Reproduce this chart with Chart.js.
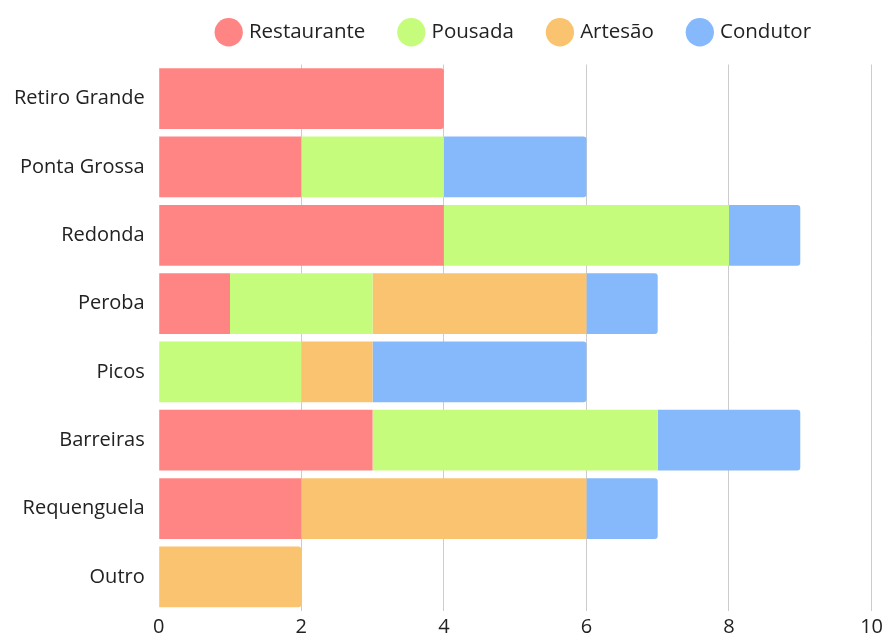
<!DOCTYPE html>
<html>
<head>
<meta charset="utf-8">
<script src="https://cdn.jsdelivr.net/npm/chart.js@4"></script>
<style>
  html, body { margin: 0; padding: 0; background: #fff; }
  #wrap { width: 887px; height: 637px; }
</style>
</head>
<body>
<div id="wrap"><canvas id="myChart"></canvas></div>
<script>
var categories = ["Retiro Grande", "Ponta Grossa", "Redonda", "Peroba", "Picos", "Barreiras", "Requenguela", "Outro"];
var restaurante = [4, 2, 4, 1, 0, 3, 2, 0];
var pousada = [0, 2, 4, 2, 2, 4, 0, 0];
var artesao = [0, 0, 0, 3, 1, 0, 4, 2];
var condutor = [0, 2, 1, 1, 3, 2, 1, 0];
var xTicks = [0, 2, 4, 6, 8, 10];

Chart.defaults.font.family = "'Open Sans', sans-serif";
Chart.defaults.color = "#222";

// extra space under the legend, and legend centred over the plot
var legendMargin = {
  id: 'legendMargin',
  beforeInit: function (chart) {
    var fit = chart.legend.fit;
    chart.legend.fit = function () {
      fit.bind(chart.legend)();
      this.height += 12;
    };
  },
  afterLayout: function (chart) {
    chart.legend.left = chart.chartArea.left - 16;
  }
};

var ctx = document.getElementById("myChart");
var myChart = new Chart(ctx, {
  type: 'bar',
  data: {
    labels: categories,
    datasets: [
      { label: "Restaurante", data: restaurante, backgroundColor: "#ff8585" },
      { label: "Pousada", data: pousada, backgroundColor: "#c6fc7c" },
      { label: "Artesão", data: artesao, backgroundColor: "#f9c370" },
      { label: "Condutor", data: condutor, backgroundColor: "#86b9fb" }
    ]
  },
  plugins: [legendMargin],
  options: {
    indexAxis: 'y',
    maintainAspectRatio: false,
    responsive: true,
    animation: false,
    layout: { padding: { left: 0, right: 0, top: -14, bottom: -8 } },
    datasets: {
      bar: {
        barPercentage: 1,
        categoryPercentage: 0.89,
        borderRadius: 3,
        borderSkipped: 'start'
      }
    },
    plugins: {
      legend: {
        position: 'top',
        labels: {
          usePointStyle: true,
          pointStyle: 'circle',
          boxWidth: 20,
          boxHeight: 20,
          padding: 36,
          font: { size: 20.5 }
        }
      },
      tooltip: { enabled: false }
    },
    scales: {
      x: {
        stacked: true,
        min: 0,
        max: 10,
        afterBuildTicks: function (axis) {
          axis.ticks = xTicks.map(function (v) { return { value: v }; });
        },
        grid: {
          color: function (c) { return c.tick && c.tick.value === 0 ? 'rgba(0,0,0,0)' : '#cccccc'; },
          drawTicks: false
        },
        border: { display: false },
        ticks: { font: { size: 20 }, padding: 4 }
      },
      y: {
        stacked: true,
        grid: { display: false, drawTicks: false },
        border: { display: false },
        ticks: { font: { size: 20 }, padding: 14 }
      }
    }
  }
});
</script>
</body>
</html>
